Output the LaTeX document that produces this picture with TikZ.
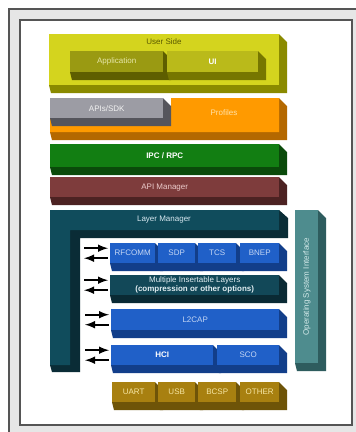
\documentclass[tikz,border=0pt]{standalone}
\usepackage{fontspec}
\setsansfont{Liberation Sans}

\definecolor{paper}{HTML}{E6E6E6}
\definecolor{edge}{HTML}{555555}
\definecolor{usr}{HTML}{D4D41E}  \definecolor{usrS}{HTML}{8A8A00}  \definecolor{usrT}{HTML}{5A5A00}
\definecolor{app}{HTML}{9A9A12}  \definecolor{appS}{HTML}{5E5E00}  \definecolor{appT}{HTML}{E6E6A8}
\definecolor{ui}{HTML}{BABA1A}   \definecolor{uiS}{HTML}{767600}   \definecolor{uiT}{HTML}{FFFFFF}
\definecolor{gry}{HTML}{9C9CA4}  \definecolor{gryS}{HTML}{55555C}  \definecolor{gryT}{HTML}{F2F2F2}
\definecolor{org}{HTML}{FF9A00}  \definecolor{orgS}{HTML}{B46800}  \definecolor{orgT}{HTML}{FFE2A8}
\definecolor{grn}{HTML}{127E12}  \definecolor{grnS}{HTML}{0A4A0A}  \definecolor{grnT}{HTML}{FFFFFF}
\definecolor{mrn}{HTML}{7E3C3C}  \definecolor{mrnS}{HTML}{4C2222}  \definecolor{mrnT}{HTML}{ECCCCC}
\definecolor{lay}{HTML}{104C5C}  \definecolor{layS}{HTML}{0A2C36}  \definecolor{layT}{HTML}{D8E8F0}
\definecolor{blu}{HTML}{2060C8}  \definecolor{bluS}{HTML}{123E8A}  \definecolor{bluT}{HTML}{C4D6F4}
\definecolor{mil}{HTML}{124858}  \definecolor{milS}{HTML}{0A2A34}  \definecolor{milT}{HTML}{E2EEF2}
\definecolor{osi}{HTML}{4E8C8E}  \definecolor{osiS}{HTML}{2E5C5E}  \definecolor{osiT}{HTML}{D4EAEA}
\definecolor{och}{HTML}{A88010}  \definecolor{ochS}{HTML}{6E5408}  \definecolor{ochT}{HTML}{F6E6A4}

% name, x1, y1, x2, y2, colour, text
\newcommand{\slab}[7]{%
  \fill[#6S] (#4,#3) -- (#4+8,#3+8) -- (#4+8,#5+8) -- (#2+2,#5+8) -- (#2,#5) -- cycle;
  \node[slabbox, fill=#6, text=#6T, minimum width={#4-#2}, minimum height={#5-#3}] (#1) at (#2,#3) {#7};}

\begin{document}
\begin{tikzpicture}[x=1pt,y=-1pt,>=latex,
    slabbox/.style={anchor=north west, inner sep=0pt, align=center, font=\sffamily\fontsize{8}{9}\selectfont},
    lbl/.style={inner sep=0pt, font=\sffamily\fontsize{8}{9}\selectfont},
    arr/.style={line width=2.4pt}]
    \useasboundingbox (0,0) rectangle (356,432);
    % frame
    \fill[white] (0,0) rectangle (356,432);
    \fill[paper] (9,9) rectangle (356,432);
    \draw[line width=1.6pt, edge] (9,432) -- (9,9) -- (356,9);
    \fill[white] (20,20) rectangle (352,425);
    \draw[line width=1.2pt, edge] (20,20) rectangle (352,425);

    % user side
    \slab{usr}{49}{34}{279}{85}{usr}{}
    \node[lbl, text=usrT] (usrlbl) at (164,42) {User Side};
    \slab{app}{70}{51}{163}{72}{app}{Application}
    \slab{ui}{167}{51}{258}{72}{ui}{\textbf{UI}}

    % profiles
    \fill[orgS] (279,98) -- (287,106) -- (287,140) -- (52,140) -- (50,132) -- cycle;
    \fill[org] (171,98) -- (279,98) -- (279,132) -- (50,132) -- (50,110) -- (171,110) -- cycle;
    \node[lbl, text=orgT] (prof) at (224,113) {Profiles};
    \slab{apis}{50}{98}{163}{118}{gry}{APIs/SDK}

    \slab{ipc}{50}{144}{279}{167}{grn}{\textbf{IPC / RPC}}
    \slab{apim}{50}{177}{279}{197}{mrn}{API Manager}

    % layer manager
    \fill[layS] (50,210) -- (279,210) -- (288,218) -- (288,238) -- (80,238) -- (80,372) -- (52,372) -- (50,365) -- cycle;
    \fill[lay] (50,210) -- (279,210) -- (279,230) -- (70,230) -- (70,365) -- (50,365) -- cycle;
    \node[lbl, text=layT] (laym) at (164,220) {Layer Manager};

    \slab{osi}{295}{210}{318}{363}{osi}{}
    \node[lbl, text=osiT, rotate=90] (osilbl) at (osi) {Operating System Interface};

    % protocols
    \foreach \n/\a/\b/\t in {rfcomm/110/155/RFCOMM, sdp/158/195/SDP, tcs/198/236/TCS, bnep/240/279/BNEP}
    {
        \slab{\n}{\a}{243}{\b}{263}{blu}{\t}
    }
    \slab{mil}{110}{275}{279}{295}{mil}{Multiple Insertable Layers\\\textbf{(compression or other options)}}
    \slab{l2cap}{111}{309}{279}{330}{blu}{L2CAP}
    \slab{hci}{111}{345}{213}{365}{blu}{\textbf{\color{white}HCI}}
    \slab{sco}{217}{345}{279}{365}{blu}{SCO}

    % transports
    \foreach \n/\a/\b/\t in {uart/112/155/UART, usb/158/195/USB, bcsp/198/236/BCSP, other/240/279/OTHER}
    {
        \slab{\n}{\a}{382}{\b}{402}{och}{\t}
    }

    \foreach \n in {rfcomm, mil, l2cap, hci}
    {
        \draw[arr,->] ([shift={(-26,-5)}]\n.west) -- ([shift={(-2,-5)}]\n.west);
        \draw[arr,<-] ([shift={(-26,5)}]\n.west) -- ([shift={(-2,5)}]\n.west);
    }
\end{tikzpicture}
\end{document}
